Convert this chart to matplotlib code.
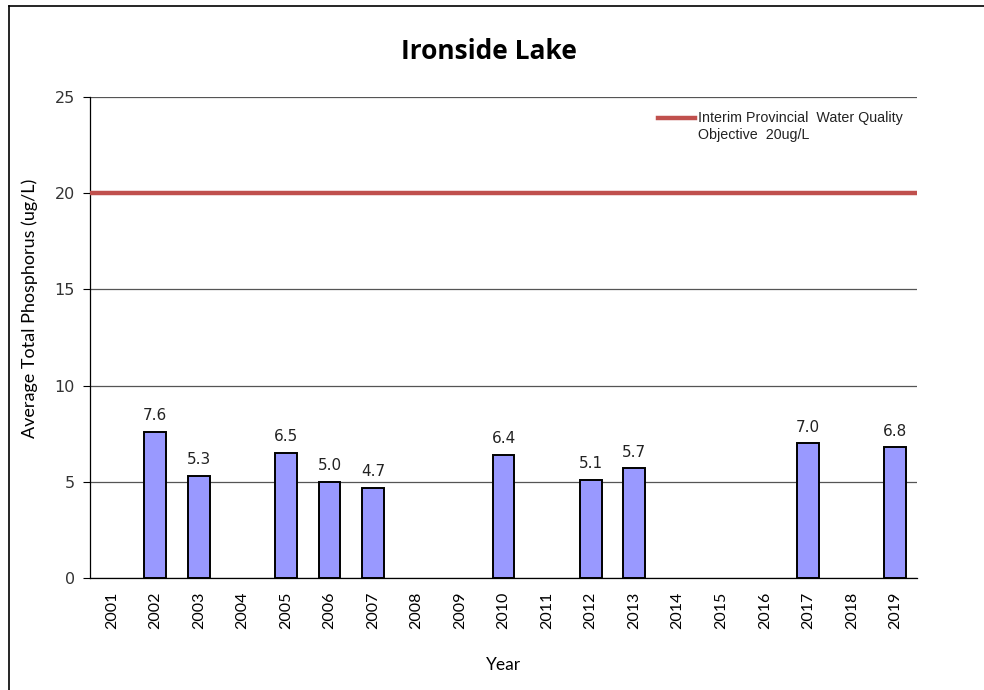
import numpy as np
import matplotlib
matplotlib.use("Agg")
import matplotlib.pyplot as plt
from matplotlib.lines import Line2D

# Данные: средний общий фосфор по годам
years = [str(y) for y in range(2001, 2020)]
phosphorus = [np.nan, 7.6, 5.3, np.nan, 6.5, 5.0, 4.7, np.nan, np.nan, 6.4,
              np.nan, 5.1, 5.7, np.nan, np.nan, np.nan, 7.0, np.nan, 6.8]
objective = 20
objective_label = "Interim Provincial  Water Quality\nObjective  20ug/L"

fig = plt.figure(figsize=(9.84, 6.90), dpi=100)
ax = fig.add_axes([0.0915, 0.1623, 0.8405, 0.6971])

x = np.arange(len(years))
vals = np.array(phosphorus, dtype=float)
mask = ~np.isnan(vals)
bars = ax.bar(x[mask], vals[mask], width=0.5, color="#9999FF",
              edgecolor="black", linewidth=1.4, zorder=3)
for xi, v in zip(x[mask], vals[mask]):
    ax.text(xi, v + 0.45, f"{v:.1f}", ha="center", va="bottom",
            fontsize=11, family="DejaVu Sans", color="#222222")

ax.axhline(objective, color="#C0504D", linewidth=3.2, zorder=4)

ax.set_xlim(-0.5, len(years) - 0.5)
ax.set_ylim(0, 25)
ax.set_yticks([0, 5, 10, 15, 20, 25])
ax.yaxis.grid(True, color="#555555", linewidth=0.9, zorder=0)
ax.set_axisbelow(True)
ax.set_xticks(x)
ax.set_xticklabels(years, rotation=90, fontsize=11.5, family="Lato")
ax.tick_params(axis="x", length=0, pad=10)
ax.tick_params(axis="y", length=5, width=0.8, labelsize=11.5, pad=6,
               labelcolor="#333333")
for lbl in ax.get_yticklabels():
    lbl.set_family("DejaVu Sans")
for s in ["top", "right"]:
    ax.spines[s].set_visible(False)
ax.spines["left"].set_linewidth(0.9)
ax.spines["bottom"].set_linewidth(0.9)

fig.text(0.497, 0.925, "Ironside Lake", fontsize=19, fontweight="bold",
         family="Open Sans", ha="center", va="center")
ax.set_ylabel("Average Total Phosphorus (ug/L)", fontsize=13, family="Lato")
ax.yaxis.set_label_coords(-0.063, 0.56)
ax.set_xlabel("Year", fontsize=12.5, family="Lato", labelpad=20)

# Легенда для линии норматива
ax.add_line(Line2D([0.687, 0.732], [0.956, 0.956], transform=ax.transAxes,
                   color="#C0504D", linewidth=3.2))
ax.text(0.735, 0.971, objective_label, transform=ax.transAxes, ha="left",
        va="top", fontsize=10.3, family="Liberation Sans", linespacing=1.3,
        color="#222222")

# Рамка вокруг рисунка (левая и верхняя стороны)
fig.add_artist(Line2D([0.009, 0.009], [0, 0.991], color="black", linewidth=1.2))
fig.add_artist(Line2D([0.009, 1.0], [0.991, 0.991], color="black", linewidth=1.2))

fig.savefig("out.png", dpi=100)
